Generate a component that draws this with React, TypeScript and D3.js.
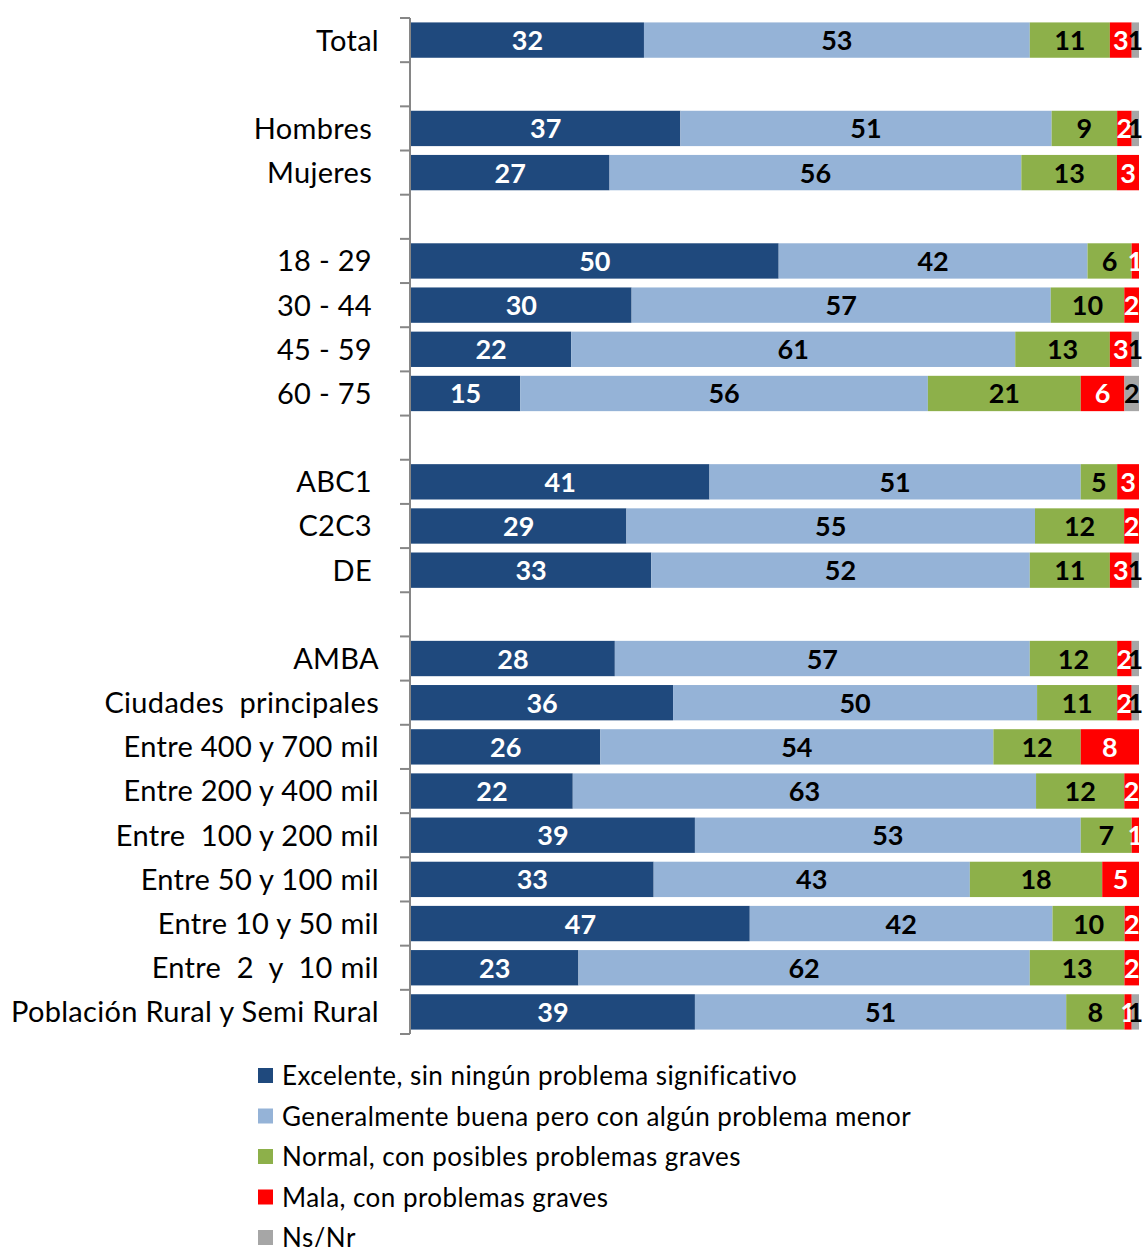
import React from 'react';
import * as d3 from 'd3';

// Data (blank strings = spacer rows between groups; trailing space kept as in the source labels)
const categories = [
  'Total ', '', 'Hombres', 'Mujeres', '', '18 - 29', '30 - 44', '45 - 59', '60 - 75', '',
  'ABC1', 'C2C3', 'DE', '', 'AMBA ', 'Ciudades  principales ', 'Entre 400 y 700 mil ',
  'Entre 200 y 400 mil ', 'Entre  100 y 200 mil ', 'Entre 50 y 100 mil ', 'Entre 10 y 50 mil ',
  'Entre  2  y  10 mil ', 'Población Rural y Semi Rural ',
];

const excelente = [32, 0, 37, 27, 0, 50, 30, 22, 15, 0, 41, 29, 33, 0, 28, 36, 26, 22, 39, 33, 47, 23, 39];
const buena = [53, 0, 51, 56, 0, 42, 57, 61, 56, 0, 51, 55, 52, 0, 57, 50, 54, 63, 53, 43, 42, 62, 51];
const normal = [11, 0, 9, 13, 0, 6, 10, 13, 21, 0, 5, 12, 11, 0, 12, 11, 12, 12, 7, 18, 10, 13, 8];
const mala = [3, 0, 2, 3, 0, 1, 2, 3, 6, 0, 3, 2, 3, 0, 2, 2, 8, 2, 1, 5, 2, 2, 1];
const nsnr = [1, 0, 1, 0, 0, 0, 0, 1, 2, 0, 0, 0, 1, 0, 1, 1, 0, 0, 0, 0, 0, 0, 1];

const seriesNames = [
  'Excelente, sin ningún problema significativo',
  'Generalmente buena pero con algún problema menor',
  'Normal, con posibles problemas graves',
  'Mala, con problemas graves',
  'Ns/Nr',
];
const seriesValues = [excelente, buena, normal, mala, nsnr];
const colors = ['#1F497D', '#95B3D7', '#8DB04A', '#FF0000', '#A6A6A6'];
const labelColors = ['#fff', '#000', '#000', '#fff', '#000'];

const W = 1145, H = 1247;
const margin = { top: 18, left: 410, right: 6 };
const plotH = 1016;
const font = 'Lato, "Open Sans", sans-serif';

export default function App() {
  const idx = categories.map((_, i) => i);
  const y = d3.scaleBand<number>().domain(idx).range([margin.top, margin.top + plotH]).paddingInner(0.2).paddingOuter(0.1);
  const x = d3.scaleLinear().domain([0, 1]).range([margin.left + 1, W - margin.right]);
  const step = y.step();

  // 100% stacking per row
  const rows = idx.map(i => {
    const vals = seriesValues.map(s => s[i]);
    const total = d3.sum(vals);
    let acc = 0;
    const segs = vals.map((v, k) => {
      const x0 = total ? acc / total : 0;
      acc += v;
      const x1 = total ? acc / total : 0;
      return { k, v, x0, x1 };
    });
    return { i, segs, total };
  });

  const ticks = d3.range(categories.length + 1).map(k => margin.top + k * step);

  return (
    <>
      <style>{`body{margin:0}`}</style>
      <svg width={W} height={H} style={{ display: 'block', fontFamily: font }}>
        {rows.map(r => r.total > 0 && (
          <g key={r.i}>
            {r.segs.map(s => s.v > 0 && (
              <rect key={s.k} x={x(s.x0)} y={y(r.i)} width={x(s.x1) - x(s.x0)} height={y.bandwidth()} fill={colors[s.k]} />
            ))}
            {r.segs.map(s => s.v > 0 && (
              <text key={'t' + s.k} x={(x(s.x0) + x(s.x1)) / 2} y={y(r.i)! + y.bandwidth() / 2} dy="0.37em"
                textAnchor="middle" fontSize={27} fontWeight="bold" fill={labelColors[s.k]}>{s.v}</text>
            ))}
          </g>
        ))}
        {/* axis */}
        <line x1={margin.left} x2={margin.left} y1={margin.top} y2={margin.top + plotH} stroke="#868686" strokeWidth={2} />
        {ticks.map((t, k) => (
          <line key={k} x1={margin.left - 10} x2={margin.left} y1={t} y2={t} stroke="#868686" strokeWidth={2} />
        ))}
        {categories.map((c, i) => c && (
          <text key={i} x={c.endsWith(' ') ? 379 : 372} y={y(i)! + y.bandwidth() / 2} dy="0.36em" textAnchor="end" fontSize={29}
            letterSpacing={0.3} style={{ whiteSpace: 'pre' }} fill="#000">{c.trimEnd()}</text>
        ))}
        {/* legend */}
        {seriesNames.map((n, k) => (
          <g key={n} transform={`translate(258, ${1076 + k * 40.5})`}>
            <rect x={0} y={-8} width={15} height={15} fill={colors[k]} />
            <text x={24} y={0} dy="0.35em" fontSize={26} letterSpacing={0.45} fill="#000">{n}</text>
          </g>
        ))}
      </svg>
    </>
  );
}
